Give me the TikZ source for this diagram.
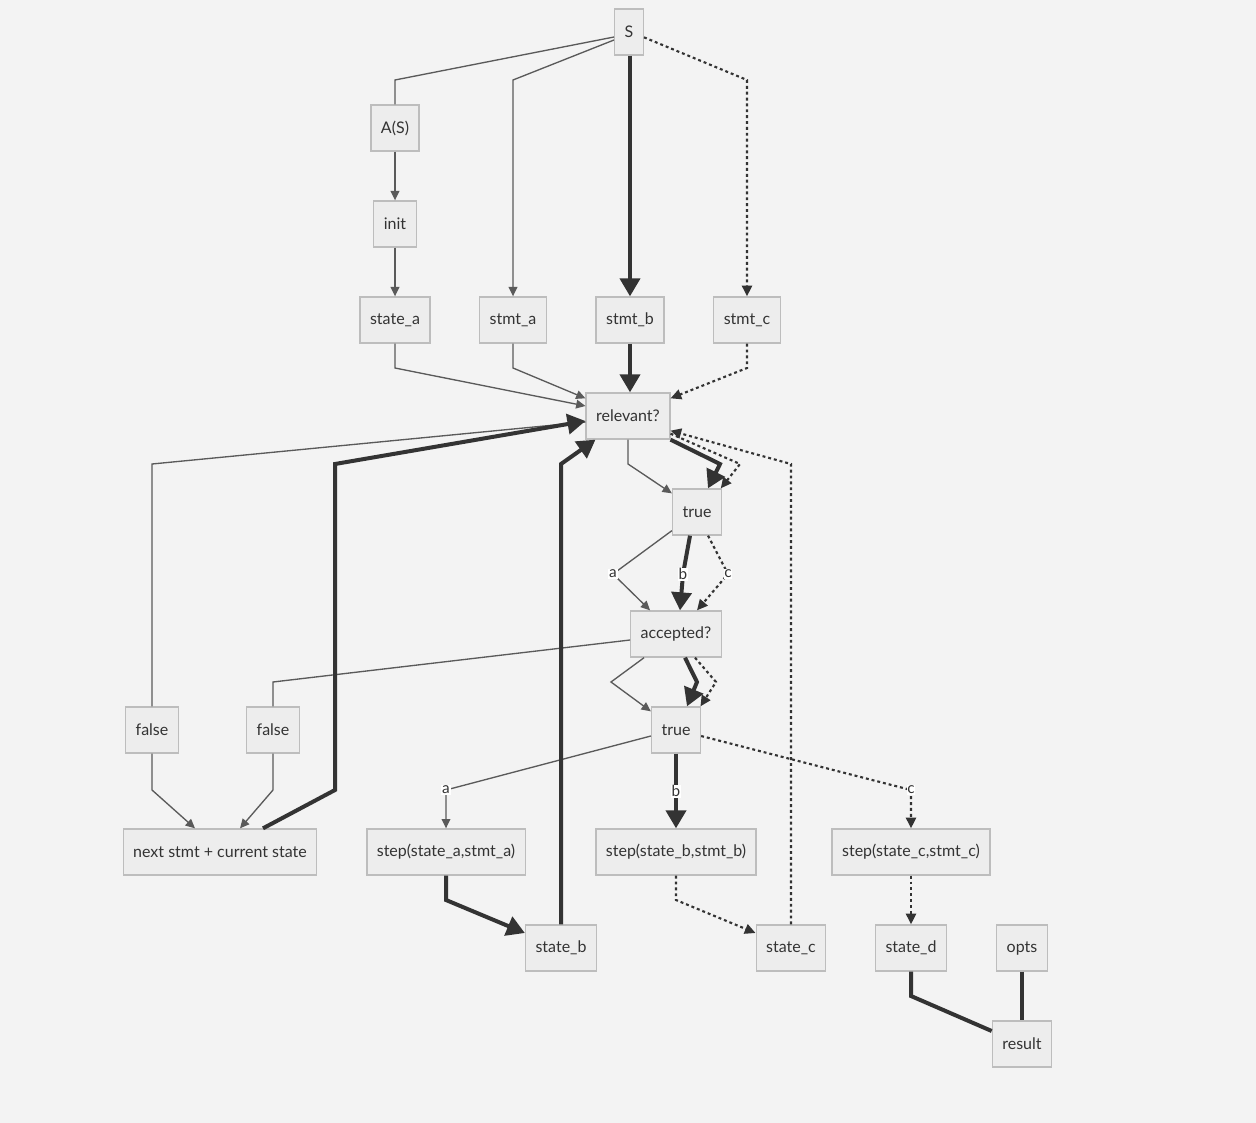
\documentclass[tikz,border=0pt]{standalone}
\usepackage{fontspec}
\setmainfont{Lato}
\usetikzlibrary{arrows.meta,calc}
\definecolor{bg}{HTML}{F3F3F3}
\definecolor{boxfill}{HTML}{EDEDED}
\definecolor{boxline}{HTML}{BDBDBD}
\definecolor{ink}{HTML}{333333}
\definecolor{thinc}{HTML}{5A5A5A}
\begin{document}
\begin{tikzpicture}[x=0.75pt,y=-0.75pt,
  box/.style={draw=boxline,fill=boxfill,line width=1pt,text=ink,
    font=\fontsize{12}{14}\selectfont,inner xsep=7.5pt,inner ysep=0pt,
    minimum height=34.5pt},
  thinl/.style={draw=thinc,line width=1pt},
  thina/.style={thinl,-{Triangle[length=7pt,width=6.5pt]},shorten >=0pt},
  thickl/.style={draw=ink,line width=3pt},
  thicka/.style={thickl,-{Triangle[length=13.5pt,width=15pt]}},
  dotl/.style={draw=ink,line width=1.6pt,dash pattern=on 2.2pt off 2.2pt},
  dota/.style={dotl,-{Triangle[length=8pt,width=7.5pt]}},
  lbl/.style={fill=white,inner sep=0.6pt,text=ink,font=\fontsize{11.5}{13}\selectfont}
]
\useasboundingbox[fill=bg] (0,0) rectangle (1256,1123);

% nodes
\node[box] (S) at (629,32) {S};
\node[box] (A) at (395,128) {A(S)};
\node[box] (init) at (395,224) {init};
\node[box] (sa) at (395,320) {state\_a};
\node[box] (stmta) at (513,320) {stmt\_a};
\node[box] (stmtb) at (630,320) {stmt\_b};
\node[box] (stmtc) at (747,320) {stmt\_c};
\node[box] (rel) at (628,416) {relevant?};
\node[box] (t1) at (697,512) {true};
\node[box] (acc) at (676,634) {accepted?};
\node[box] (t2) at (676,730) {true};
\node[box] (f1) at (152,730) {false};
\node[box] (f2) at (273,730) {false};
\node[box] (next) at (220,852) {next stmt + current state};
\node[box] (stepa) at (446,852) {step(state\_a,stmt\_a)};
\node[box] (stepb) at (676,852) {step(state\_b,stmt\_b)};
\node[box] (stepc) at (911,852) {step(state\_c,stmt\_c)};
\node[box] (stateb) at (561,948) {state\_b};
\node[box] (statec) at (791,948) {state\_c};
\node[box] (stated) at (911,948) {state\_d};
\node[box] (opts) at (1022,948) {opts};
\node[box] (result) at (1022,1044) {result};

% top fan-out from S
\draw[thinl] ([yshift=-3.75pt]S.west) -- (395,80) -- (A.north);
\draw[thina] (A) -- (init);
\draw[thina] (init) -- (sa);
\draw[thina] ([yshift=-6pt]S.west) -- (513,80) -- (stmta.north);
\draw[thicka] (S.south -| stmtb.north) -- (stmtb.north);
\draw[dota] ([yshift=-4pt]S.east) -- (747,80) -- (stmtc.north);

% into relevant?
\draw[thina] (sa.south) -- (395,368) -- ([yshift=7.5pt]rel.west);
\draw[thina] (stmta.south) -- (513,368) -- ([yshift=-4.5pt]rel.north west);
\draw[thicka] (stmtb.south) -- (stmtb.south |- rel.north);
\draw[dota] (stmtc.south) -- (747,368) -- ([yshift=-4.5pt]rel.north east);

% relevant? -> true
\draw[thina] (rel.south) -- (628,464) -- ([yshift=-3.75pt]t1.north west);
\draw[thicka] (rel.south east) -- (720,464) -- ([xshift=8.25pt]t1.north);
\draw[dota] ([yshift=4.5pt]rel.south east) -- (740,464) -- ([xshift=-1pt]t1.north east);

% true -> accepted?
\draw[thina] ([yshift=3.75pt]t1.south west) -- (613,574) node[lbl]{a} -- ([xshift=15pt]acc.north west);
\draw[thicka] ([xshift=-5.25pt]t1.south) -- (683,574) node[lbl]{b} -- ([xshift=3pt]acc.north);
\draw[dota] ([xshift=8.25pt]t1.south) -- (728,574) node[lbl]{c} -- ([xshift=15.75pt]acc.north);

% accepted? -> true
\draw[thina] ([xshift=10.5pt]acc.south west) -- (611,682) -- ([yshift=-3.75pt]t2.north west);
\draw[thicka] ([xshift=6.75pt]acc.south) -- (697,682) -- ([xshift=8.25pt]t2.north);
\draw[dota] ([xshift=14.25pt]acc.south) -- (716,682) -- ([xshift=-0.5pt]t2.north east);

% false branches
\draw[thinl] ([yshift=-4.5pt]rel.west) -- (152,464) -- (f1.north);
\draw[thinl] ([yshift=-4.5pt]acc.west) -- (273,682) -- (f2.north);
\draw[thina] (f1.south) -- (152,790) -- ([xshift=-18.75pt]next.north);
\draw[thina] (f2.south) -- (273,790) -- ([xshift=15pt]next.north);
\draw[thicka] ([xshift=32.25pt]next.north) -- (335,790) -- (335,464) -- ([yshift=-3.75pt]rel.west);

% true -> steps
\draw[thina] ([yshift=-4.5pt]t2.west) -- (446,790) node[lbl]{a} -- (stepa.north);
\draw[thicka] (t2.south) -- (stepb.north) node[lbl,midway]{b};
\draw[dota] ([yshift=-4.5pt]t2.east) -- (911,790) node[lbl]{c} -- (stepc.north);

% steps -> states
\draw[thicka] (stepa.south) -- (446,900) -- ([yshift=11.25pt]stateb.west);
\draw[thicka] (stateb.north) -- (561,464) -- ([xshift=7.5pt]rel.south west);
\draw[dota] (stepb.south) -- (676,900) -- ([yshift=11.25pt]statec.west);
\draw[dota] (statec.north) -- (791,464) -- ([yshift=6.75pt]rel.south east);
\draw[dota] (stepc.south) -- (stated.north);

% result
\draw[thickl] (stated.south) -- (911,996) -- ([yshift=9.75pt]result.west);
\draw[thickl] (opts.south) -- (result.north);
\end{tikzpicture}
\end{document}
